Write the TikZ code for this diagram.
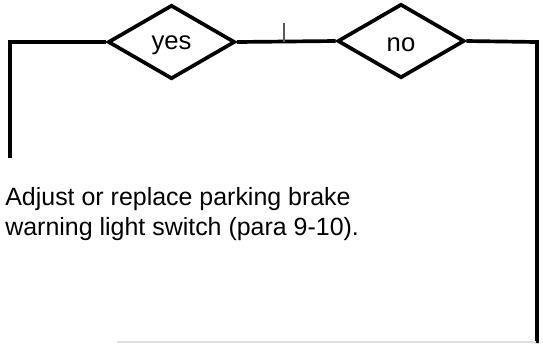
\documentclass[tikz,border=0pt]{standalone}
\usepackage{fontspec}
\setmainfont{Liberation Sans}
\usetikzlibrary{shapes.geometric}

\begin{document}
\begin{tikzpicture}[
    x=0.02cm, y=-0.02cm,
    choice/.style={diamond, draw=black, line width=2.1pt, aspect=1.72, inner sep=0pt,
        minimum width=2.54cm, minimum height=1.48cm, text depth=0pt,
        font=\fontsize{14.6}{17}\selectfont},
    flow/.style={line width=2.1pt, line join=miter},
    action/.style={anchor=base west, align=left, inner sep=0pt, font=\fontsize{14.2}{17}\selectfont}
]
\useasboundingbox (0,0) rectangle (543,343);

% Decisions
\node[choice, text height=9pt] (yes) at (171.5,42) {yes};
\node[choice, text height=11.4pt] (no) at (401,41) {no};

% Action (base anchor sits on the last line)
\node[action] (adjust) at (5,235) {Adjust or replace parking brake\\warning light switch (para 9-10).};

% Branch points
\coordinate (lefttop) at (10,42);
\coordinate (leftend) at (10,158);
\coordinate (righttop) at (537,42);
\coordinate (rightend) at (537,343);
\coordinate (tickfoot) at (284,42);
\coordinate (tickhead) at (284,23);
\coordinate (rulestart) at (117,342);
\coordinate (ruleend) at (536,342);

% Lines
\draw[flow] (yes.west) -- (lefttop) -- (leftend);
\draw[flow] (yes.east) -- (no.west);
\draw[flow] (no.east) -- (righttop) -- (rightend);
\draw[line width=1.2pt, black!65] (tickfoot) -- (tickhead);
\draw[line width=0.6pt, black!12] (rulestart) -- (ruleend);

\end{tikzpicture}
\end{document}
